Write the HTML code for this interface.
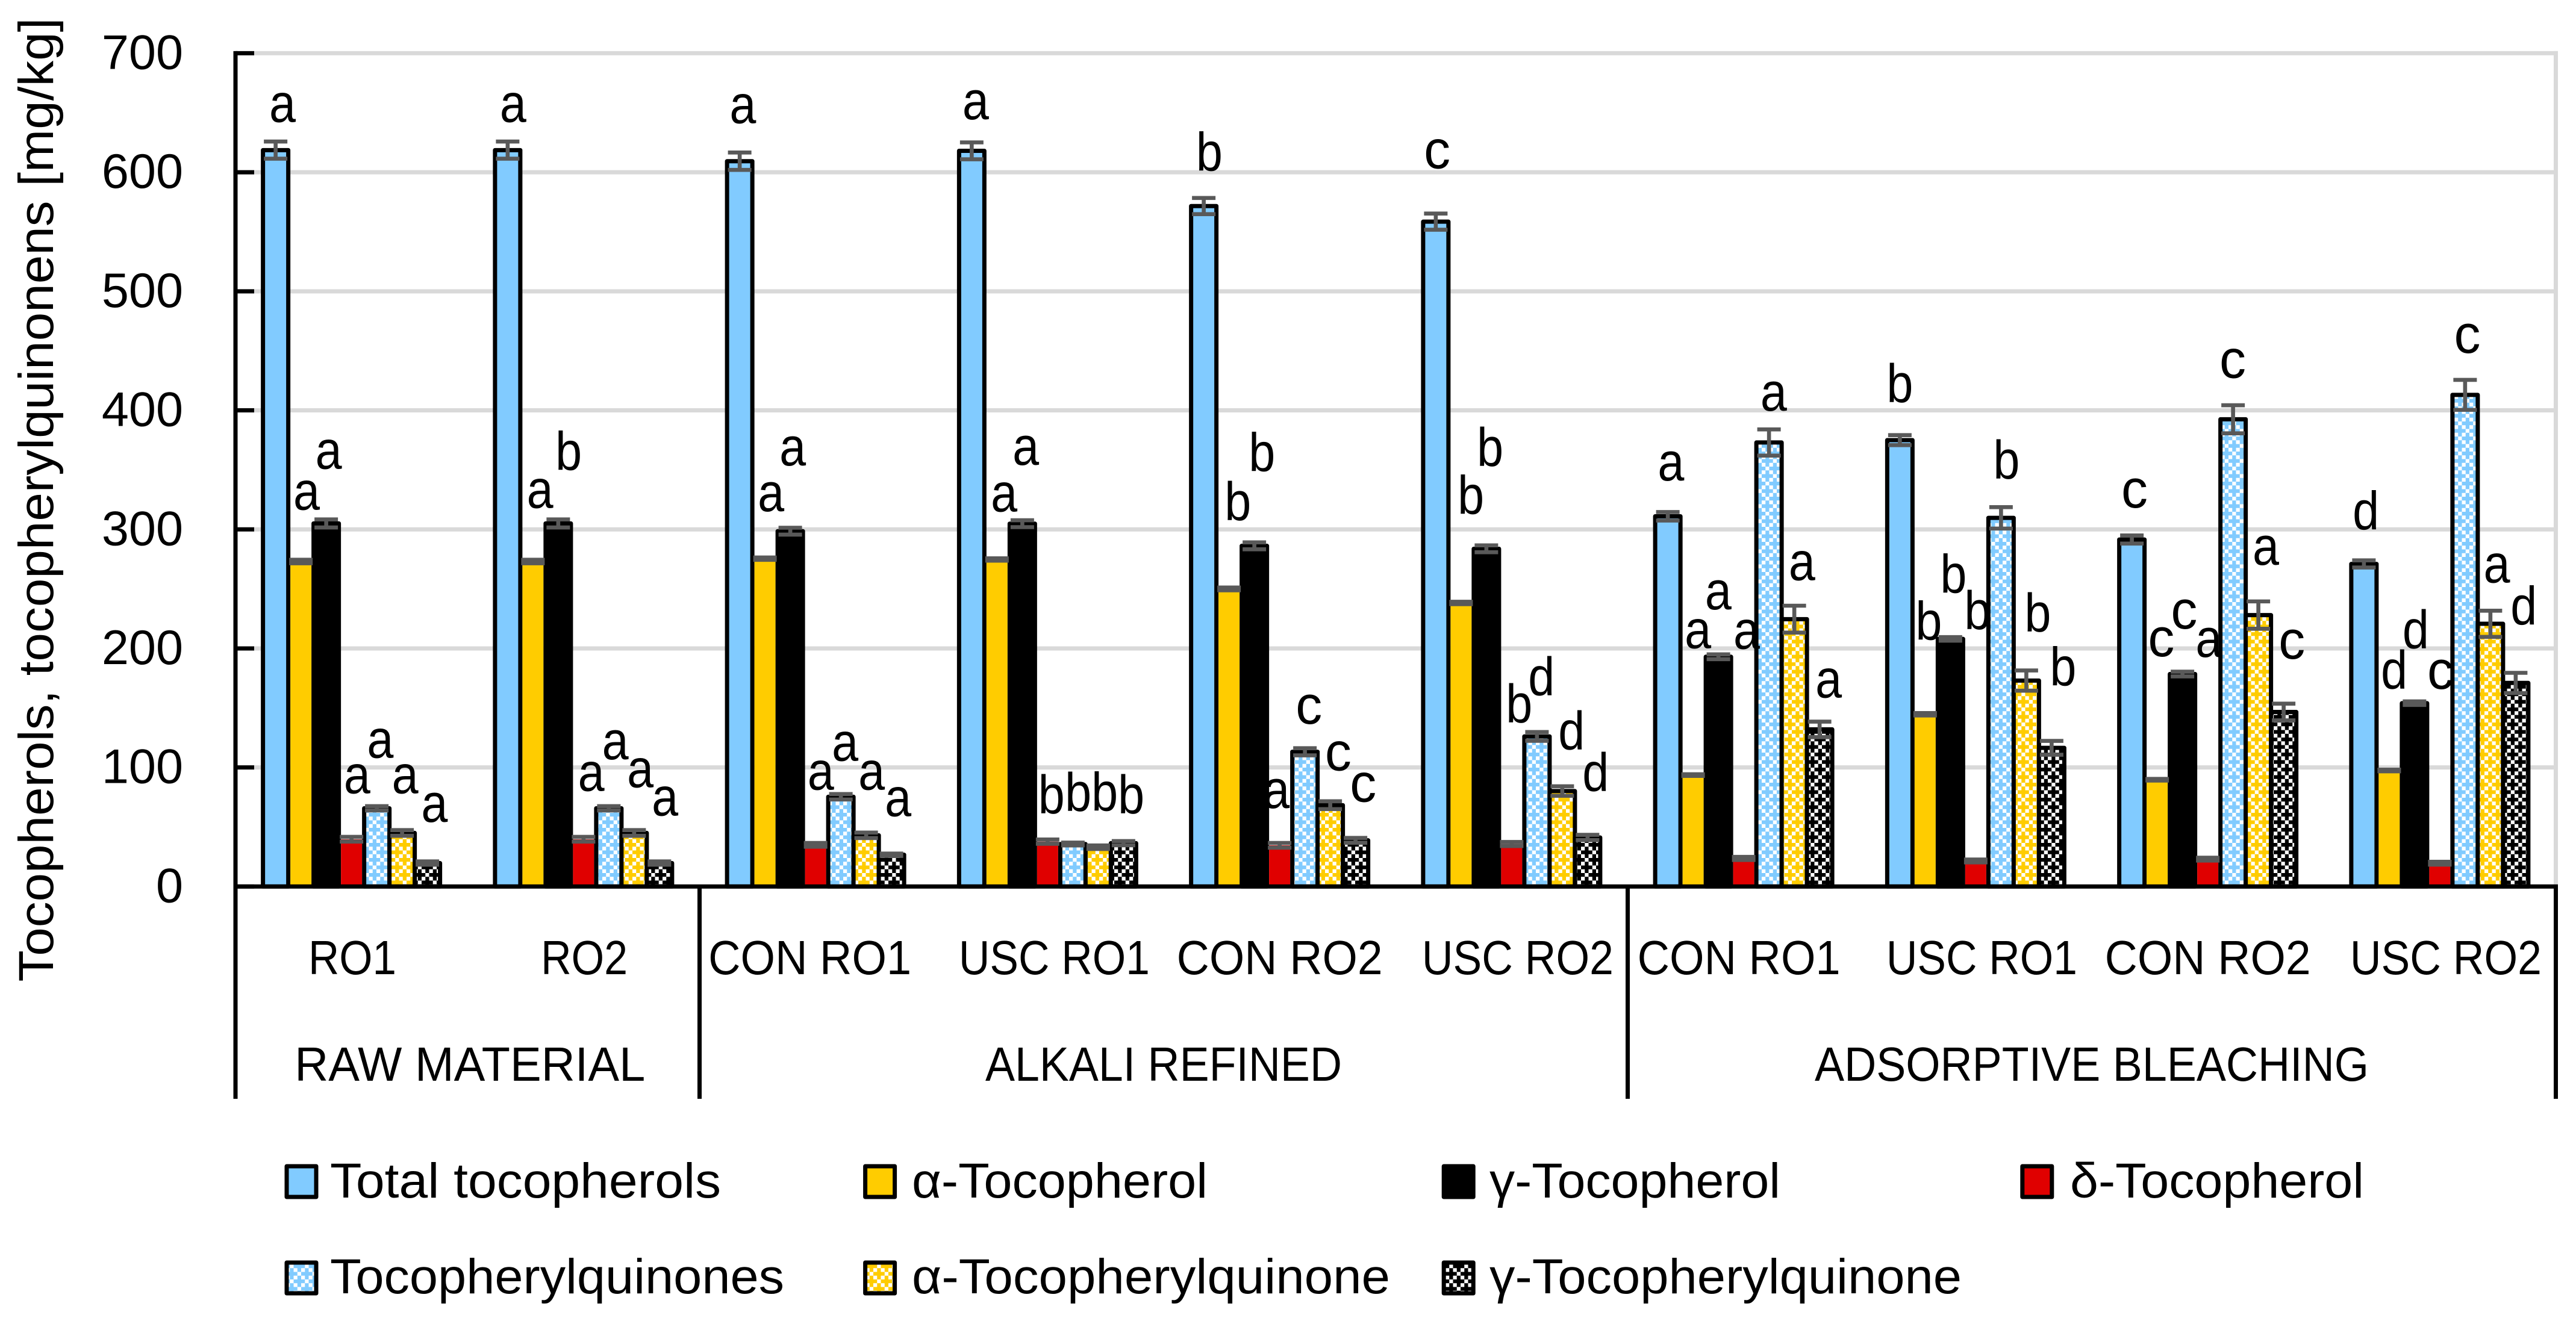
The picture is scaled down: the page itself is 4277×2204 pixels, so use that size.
<!DOCTYPE html>
<html lang="en">
<head>
<meta charset="utf-8">
<title>Tocopherols and tocopherylquinones chart</title>
<style>
html,body{margin:0;padding:0;background:#fff}
svg{display:block}
text{font-family:"Liberation Sans",sans-serif;fill:#000}
</style>
</head>
<body>
<svg id="chart" xmlns="http://www.w3.org/2000/svg" width="4277" height="2204" viewBox="0 0 4277 2204">
  <defs>
    <pattern id="hatch-blue" patternUnits="userSpaceOnUse" width="25" height="25">
      <rect width="25" height="25" fill="#81CBFF"/>
      <path d="M6.25 0h6.25v6.25h-6.25zM0 6.25h6.25v6.25h-6.25zM12.5 6.25h6.25v6.25h-6.25zM18.75 12.5h6.25v6.25h-6.25zM0 18.75h6.25v6.25h-6.25zM12.5 18.75h6.25v6.25h-6.25z" fill="#fff"/>
    </pattern>
    <pattern id="hatch-gold" patternUnits="userSpaceOnUse" width="25" height="25">
      <rect width="25" height="25" fill="#FFCC00"/>
      <path d="M6.25 0h6.25v6.25h-6.25zM0 6.25h6.25v6.25h-6.25zM12.5 6.25h6.25v6.25h-6.25zM18.75 12.5h6.25v6.25h-6.25zM0 18.75h6.25v6.25h-6.25zM12.5 18.75h6.25v6.25h-6.25z" fill="#fff"/>
    </pattern>
    <pattern id="hatch-black" patternUnits="userSpaceOnUse" width="25" height="25">
      <rect width="25" height="25" fill="#000"/>
      <path d="M6.25 0h6.25v6.25h-6.25zM0 6.25h6.25v6.25h-6.25zM12.5 6.25h6.25v6.25h-6.25zM18.75 12.5h6.25v6.25h-6.25zM0 18.75h6.25v6.25h-6.25zM12.5 18.75h6.25v6.25h-6.25z" fill="#fff"/>
    </pattern>
  </defs>
  <rect width="4277" height="2204" fill="#fff"/>
</svg>
<script>
// ---- chart data ----
const yTicks = [0, 100, 200, 300, 400, 500, 600, 700];
const categories = ["RO1", "RO2", "CON RO1", "USC RO1", "CON RO2", "USC RO2", "CON RO1", "USC RO1", "CON RO2", "USC RO2"];
const groupNames = ["RAW MATERIAL", "ALKALI REFINED", "ADSORPTIVE BLEACHING"];
const groupCounts = [2, 4, 4];
const seriesNames = ["Total tocopherols", "α-Tocopherol", "γ-Tocopherol", "δ-Tocopherol", "Tocopherylquinones", "α-Tocopherylquinone", "γ-Tocopherylquinone"];

const totalTocopherols   = [618.6, 618.6, 609.3, 618, 571.6, 558.5, 311, 375, 291.5, 271];
const alphaTocopherol    = [273, 273, 275.4, 274.7, 250, 238.2, 93.6, 144.7, 89.7, 97.5];
const gammaTocopherol    = [305, 305, 298.5, 304.8, 286.2, 283.7, 193, 208, 178.5, 154];
const deltaTocopherol    = [39.7, 39.7, 35, 37.7, 34.6, 35.7, 23.6, 21.5, 23, 19.6];
const tocopherylquinones = [65.7, 65.7, 75.4, 35.7, 113.2, 126.1, 373, 309.7, 392.5, 413];
const alphaQuinone       = [45, 45, 43, 33, 68.3, 80.2, 224.6, 173, 228, 220.7];
const gammaQuinone       = [19.7, 19.7, 26.7, 36.4, 38.8, 41.2, 132, 116.5, 146.6, 171];

const totalTocopherolsErr   = [7.2, 7.2, 7.3, 7.1, 6.8, 6.8, 3.6, 4.2, 3.4, 3];
const alphaTocopherolErr    = [1.5, 1.5, 1, 1, 1.2, 1, 0.7, 1, 0.7, 0.7];
const gammaTocopherolErr    = [3.4, 3.4, 2.9, 2.9, 2.9, 2.9, 2, 1.5, 2, 1.5];
const deltaTocopherolErr    = [2, 2, 1.6, 1.8, 2, 1.7, 1.3, 1.2, 1.2, 1.2];
const tocopherylquinonesErr = [1.8, 1.8, 2.3, 1.2, 3, 3.7, 11, 9, 11.8, 12.6];
const alphaQuinoneErr       = [2.4, 2.4, 2.3, 1.5, 3.3, 4, 11.3, 8.5, 11.5, 11];
const gammaQuinoneErr       = [1.4, 1.4, 1, 1.8, 2, 2.2, 6.5, 5.8, 7, 8.5];

const totalTocopherolsLetters   = ["a", "a", "a", "a", "b", "c", "a", "b", "c", "d"];
const alphaTocopherolLetters    = ["a", "a", "a", "a", "b", "b", "a", "b", "c", "d"];
const gammaTocopherolLetters    = ["a", "b", "a", "a", "b", "b", "a", "b", "c", "d"];
const deltaTocopherolLetters    = ["a", "a", "a", "b", "a", "b", "a", "b", "a", "c"];
const tocopherylquinonesLetters = ["a", "a", "a", "b", "c", "d", "a", "b", "c", "c"];
const alphaQuinoneLetters       = ["a", "a", "a", "b", "c", "d", "a", "b", "a", "a"];
const gammaQuinoneLetters       = ["a", "a", "a", "b", "c", "d", "a", "b", "c", "d"];

const NS = "http://www.w3.org/2000/svg";
const svg = document.getElementById("chart");

function make(parent, tag, attrs, text) {
  const el = document.createElementNS(NS, tag);
  for (const k in attrs) el.setAttribute(k, attrs[k]);
  if (text !== undefined) el.textContent = text;
  parent.appendChild(el);
  return el;
}

// axis functions
const plotLeft = 391, plotRight = 4243.5, plotBottom = 1472.4, plotTop = 88.4, yMax = 700;
const catWidth = (plotRight - plotLeft) / categories.length;
const barStep = 42;
function yPos(v) { return plotBottom - (plotBottom - plotTop) * v / yMax; }
function catLeft(c) { return plotLeft + catWidth * c; }
function barCenter(c, s) { return catLeft(c) + (catWidth - barStep * seriesNames.length) / 2 + barStep / 2 + barStep * s; }

function drawChart() {
  const values = [totalTocopherols, alphaTocopherol, gammaTocopherol, deltaTocopherol, tocopherylquinones, alphaQuinone, gammaQuinone];
  const errors = [totalTocopherolsErr, alphaTocopherolErr, gammaTocopherolErr, deltaTocopherolErr, tocopherylquinonesErr, alphaQuinoneErr, gammaQuinoneErr];
  const letters = [totalTocopherolsLetters, alphaTocopherolLetters, gammaTocopherolLetters, deltaTocopherolLetters, tocopherylquinonesLetters, alphaQuinoneLetters, gammaQuinoneLetters];
  const fills = ["#81CBFF", "#FFCC00", "#000", "#E00000", "url(#hatch-blue)", "url(#hatch-gold)", "url(#hatch-black)"];
  const outlined = [true, false, true, false, true, true, true];
  const slugs = ["total-tocopherols", "alpha-tocopherol", "gamma-tocopherol", "delta-tocopherol", "tocopherylquinones", "alpha-tocopherylquinone", "gamma-tocopherylquinone"];

  // hand placement of the significance letters, relative to each bar (layout, not data)
  const letterLift = [
    [47, 86, 91, 76.5, 84, 66, 68.5],
    [47, 89, 89, 80.5, 81.5, 76, 79],
    [63, 79, 109, 91.5, 60, 76, 64],
    [52.6, 80, 98, 47, 55, 60.5, 49.4],
    [59, 114, 124, 62, 46.5, 58, 64],
    [88.5, 148, 137.5, 202, 68, 69, 77],
    [59.5, 211, 79, 348, 53, 65, 53],
    [63, 124, 76.6, 385, 65, 81.4, 103.5],
    [53, 205, 75.5, 336, 69, 83.6, 88.6],
    [57, 135.6, 91, 289.6, 70, 68.5, 96.7]
  ];
  const letterShift = [
    [11.4, 9.4, 4, 9.2, 5.7, 5, 11.8],
    [9, 11.7, 17.2, 12.7, 10.8, 10.2, 9.2],
    [5.3, 10, 4, 8.6, 7, 9, 11],
    [6.5, 11.8, 5.8, 6.4, 8.8, 10.8, 12.8],
    [9.3, 14.6, 12.6, -5.4, 6.6, 13.2, 12.6],
    [2.2, 16.3, 6.2, 12.4, 7.4, 15.4, 13.4],
    [5.2, 8, -0.2, 4.9, 7.7, 12.8, 15],
    [0, 6, 5, 3, 9, 19, 19],
    [4.4, 6.8, 2.8, 1.8, -0.6, 12.4, 13.6],
    [3.2, 8.3, 2, 1.1, 3.6, 10.6, 13.4]
  ];
  const labelWidth = {"RO1":146, "RO2":144, "CON RO1":337, "CON RO2":342, "USC RO1":317, "USC RO2":318,
    "RAW MATERIAL":582, "ALKALI REFINED":592, "ADSORPTIVE BLEACHING":920};
  const categoryShift = [1.4, 1.2, -9.5, 11, 0, 10, -8, 10, 0, 10];
  const groupShift = [4, 0, 0];
  const legendWidth = [649, 491, 483, 488, 754, 794, 784];
  const legendOrder = [[0,0],[1,0],[2,0],[3,0],[0,1],[1,1],[2,1]];
  const legendTextX = [548, 1514, 2473, 3437];

  // gridlines
  const grid = make(svg, "g", {});
  
  
  yTicks.forEach(function (t) {
    if (t === 0) return;
    const line = make(grid, "line", {x1: plotLeft, x2: plotRight + 3.5, y1: yPos(t), y2: yPos(t), stroke: "#D9D9D9", "stroke-width": 7});
    
    
  });
  const rightEdge = make(grid, "line", {x1: plotRight, x2: plotRight, y1: plotTop - 3.5, y2: plotBottom, stroke: "#D9D9D9", "stroke-width": 7});
  
  

  // bars
  values.forEach(function (arr, s) {
    const g = make(svg, "g", {});
    
    
    arr.forEach(function (v, c) {
      const cx = barCenter(c, s), top = yPos(v);
      let bar;
      if (outlined[s]) {
        bar = make(g, "rect", {x: cx - 21, y: top, width: 42, height: plotBottom - top, fill: fills[s], stroke: "#000", "stroke-width": 7, "stroke-linejoin": "round"});
      } else {
        bar = make(g, "rect", {x: cx - 17.5, y: top, width: 35, height: plotBottom - top, fill: fills[s]});
      }
      
      
    });
  });

  // axes
  const axes = make(svg, "g", {});
  
  
  const yAxis = make(axes, "line", {x1: plotLeft, x2: plotLeft, y1: plotTop - 3.5, y2: plotBottom, stroke: "#000", "stroke-width": 7});
  
  
  const xAxis = make(axes, "line", {x1: plotLeft - 3.5, x2: plotRight + 3.5, y1: plotBottom, y2: plotBottom, stroke: "#000", "stroke-width": 7});
  
  
  yTicks.forEach(function (t) {
    const tick = make(axes, "line", {x1: plotLeft, x2: plotLeft + 31, y1: yPos(t), y2: yPos(t), stroke: "#000", "stroke-width": 7});
    
    
    const label = make(axes, "text", {x: 304, y: yPos(t) + 26, "font-size": 81, "text-anchor": "end"}, String(t));
    
    
  });

  // category and group labels with separators
  categories.forEach(function (name, c) {
    const label = make(axes, "text", {x: catLeft(c) + catWidth / 2 + categoryShift[c], y: 1618, "font-size": 80, "text-anchor": "middle", textLength: labelWidth[name], lengthAdjust: "spacingAndGlyphs"}, name);
    
    
  });
  let start = 0;
  const firstSep = make(axes, "line", {x1: plotLeft, x2: plotLeft, y1: plotBottom, y2: 1825, stroke: "#000", "stroke-width": 7});
  
  
  groupNames.forEach(function (name, i) {
    const end = start + groupCounts[i];
    const label = make(axes, "text", {x: (catLeft(start) + catLeft(end)) / 2 + groupShift[i], y: 1795, "font-size": 80, "text-anchor": "middle", textLength: labelWidth[name], lengthAdjust: "spacingAndGlyphs"}, name);
    
    
    const sep = make(axes, "line", {x1: catLeft(end), x2: catLeft(end), y1: plotBottom, y2: 1825, stroke: "#000", "stroke-width": 7});
    
    
    start = end;
  });

  // y-axis title
  const title = make(svg, "text", {transform: "translate(88 830) rotate(-90)", "font-size": 82, "text-anchor": "middle", textLength: 1601, lengthAdjust: "spacingAndGlyphs"}, "Tocopherols, tocopherylquinonens [mg/kg]");
  
  

  // error bars
  values.forEach(function (arr, s) {
    const g = make(svg, "g", {stroke: "#595959", "stroke-width": 6.6, fill: "none"});
    
    
    arr.forEach(function (v, c) {
      const cx = barCenter(c, s), hi = yPos(v + errors[s][c]), lo = yPos(v - errors[s][c]);
      const err = make(g, "path", {d: "M" + (cx - 19.5) + " " + hi + "H" + (cx + 19.5) + "M" + cx + " " + hi + "V" + lo + "M" + (cx - 19.5) + " " + lo + "H" + (cx + 19.5)});
      
      
    });
  });

  // significance letters
  const letterLayer = make(svg, "g", {});
  
  
  letters.forEach(function (arr, s) {
    arr.forEach(function (ch, c) {
      const t = make(letterLayer, "text", {x: barCenter(c, s) + letterShift[c][s], y: yPos(values[s][c]) - letterLift[c][s], "font-size": 90, "text-anchor": "middle", textLength: 44, lengthAdjust: "spacingAndGlyphs"}, ch);
      
      
    });
  });

  // legend
  const legend = make(svg, "g", {});
  
  
  seriesNames.forEach(function (name, s) {
    const col = legendOrder[s][0], row = legendOrder[s][1];
    const entry = make(legend, "g", {});
    
    
    const swatch = make(entry, "rect", {x: 476 + 960.6 * col, y: 1937 + 160 * row, width: 49, height: 51, fill: fills[s], stroke: "#000", "stroke-width": 7, "stroke-linejoin": "round"});
    
    
    const label = make(entry, "text", {x: legendTextX[col], y: 1989 + 159 * row, "font-size": 82, textLength: legendWidth[s], lengthAdjust: "spacingAndGlyphs"}, name);
    
    
  });
}
drawChart();
</script>
</body>
</html>
